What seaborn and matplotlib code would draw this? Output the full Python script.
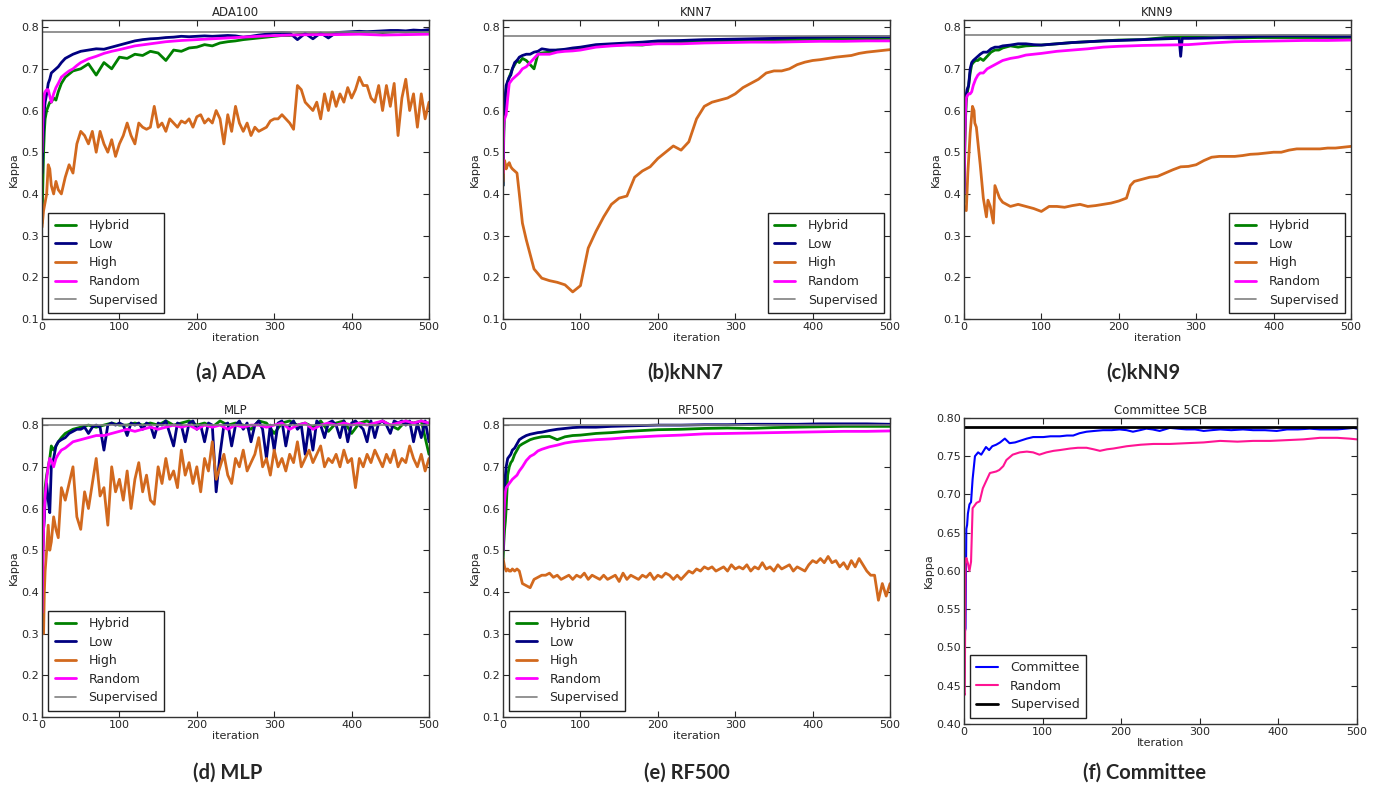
import matplotlib
matplotlib.use('Agg')

import matplotlib.pyplot as plt
import seaborn as sns

sns.set_style("white")
plt.rcParams.update({
    'font.family': ['DejaVu Sans'],
    'xtick.direction': 'in', 'ytick.direction': 'in',
    'xtick.top': True, 'ytick.right': True,
    'xtick.major.size': 4, 'ytick.major.size': 4,
    'xtick.bottom': True, 'ytick.left': True,
    'axes.edgecolor': '#333333', 'axes.linewidth': 1.0,
})

# ---------- iteration grids ----------
EARLY = [0, 1, 2, 3, 4, 6, 8, 10, 12, 15, 18, 21, 25]
X_FINE = EARLY + list(range(30, 501, 5))
X_MID = EARLY + list(range(30, 501, 10))
X_SMOOTH = [0, 1, 2, 3, 4, 6, 8, 10, 12, 15, 18, 21, 25, 30, 35, 40, 45, 50, 60, 70,
            80, 90, 100, 120, 140, 160, 180, 200, 230, 260, 290, 320, 350, 380, 410,
            440, 470, 500]

# ---------- (a) ADA100 ----------
ada_low = [0.45, 0.52, 0.56, 0.60, 0.62, 0.64, 0.665, 0.675, 0.69, 0.695, 0.70, 0.705, 0.715,
           0.725, 0.735, 0.742, 0.745, 0.748, 0.747, 0.752, 0.757, 0.762, 0.767,
           0.77, 0.772, 0.773, 0.775, 0.776, 0.778, 0.777, 0.778, 0.779, 0.778,
           0.779, 0.78, 0.779, 0.776, 0.778, 0.781, 0.783, 0.786, 0.787, 0.786,
           0.77, 0.785, 0.772, 0.786, 0.774, 0.787, 0.788, 0.789, 0.79, 0.789,
           0.79, 0.791, 0.792, 0.792, 0.791, 0.793, 0.792, 0.794]
ada_hybrid = [0.33, 0.42, 0.50, 0.55, 0.58, 0.60, 0.61, 0.62, 0.62, 0.63, 0.625, 0.645, 0.665,
              0.68, 0.695, 0.70, 0.712, 0.685, 0.715, 0.70, 0.728, 0.725, 0.735,
              0.732, 0.742, 0.738, 0.72, 0.745, 0.742, 0.75, 0.752, 0.758, 0.755,
              0.762, 0.765, 0.767, 0.77, 0.772, 0.774, 0.776, 0.778, 0.78, 0.78,
              0.782, 0.783, 0.784, 0.784, 0.785, 0.786, 0.786, 0.787, 0.787, 0.788,
              0.788, 0.787, 0.788, 0.789, 0.788, 0.789, 0.79, 0.79]
ada_random = [0.50, 0.57, 0.62, 0.64, 0.645, 0.65, 0.65, 0.635, 0.62, 0.64, 0.655, 0.665, 0.68,
              0.688, 0.695, 0.70, 0.708, 0.715, 0.724, 0.73, 0.737, 0.742, 0.746, 0.755,
              0.76, 0.765, 0.768, 0.77, 0.773, 0.776, 0.779, 0.781, 0.782, 0.782, 0.783,
              0.781, 0.782, 0.783]
ada_high = [0.32, 0.34, 0.36, 0.37, 0.38, 0.40, 0.47, 0.46, 0.42, 0.40, 0.43, 0.41, 0.40,
            0.44, 0.47, 0.45, 0.52, 0.55, 0.54, 0.52, 0.55, 0.50, 0.55,
            0.52, 0.50, 0.53, 0.49, 0.52, 0.54, 0.57, 0.54, 0.52, 0.57,
            0.56, 0.555, 0.56, 0.61, 0.56, 0.57, 0.55, 0.58, 0.57, 0.56,
            0.575, 0.57, 0.58, 0.56, 0.585, 0.59, 0.57, 0.58, 0.57, 0.60,
            0.58, 0.52, 0.59, 0.55, 0.61, 0.57, 0.55, 0.57, 0.54, 0.56,
            0.55, 0.555, 0.56, 0.575, 0.58, 0.58, 0.59, 0.58, 0.57, 0.555,
            0.66, 0.65, 0.62, 0.61, 0.60, 0.62, 0.58, 0.64, 0.60, 0.645,
            0.61, 0.64, 0.62, 0.655, 0.63, 0.65, 0.68, 0.66, 0.66, 0.63,
            0.62, 0.66, 0.60, 0.66, 0.61, 0.665, 0.54, 0.63, 0.675, 0.60,
            0.64, 0.56, 0.64, 0.58, 0.62]

# ---------- (b) KNN7 ----------
knn7_low = [0.42, 0.58, 0.60, 0.64, 0.66, 0.67, 0.68, 0.685, 0.70, 0.715, 0.72, 0.728, 0.732,
            0.735, 0.735, 0.74, 0.742, 0.748, 0.745, 0.745, 0.747, 0.75, 0.752, 0.758,
            0.76, 0.762, 0.764, 0.767, 0.768, 0.77, 0.771, 0.772, 0.773, 0.775, 0.776,
            0.777, 0.777, 0.777]
knn7_hybrid = [0.42, 0.55, 0.60, 0.63, 0.65, 0.67, 0.68, 0.69, 0.70, 0.71, 0.72, 0.715, 0.725,
               0.72, 0.71, 0.70, 0.735, 0.738, 0.74, 0.745, 0.745, 0.748, 0.75, 0.755,
               0.757, 0.758, 0.757, 0.762, 0.765, 0.766, 0.767, 0.768, 0.769, 0.77, 0.771,
               0.772, 0.772, 0.773]
knn7_random = [0.45, 0.57, 0.58, 0.585, 0.59, 0.63, 0.665, 0.67, 0.675, 0.68, 0.685, 0.69, 0.70,
               0.705, 0.715, 0.725, 0.735, 0.735, 0.735, 0.74, 0.742, 0.743, 0.745, 0.752,
               0.755, 0.757, 0.758, 0.76, 0.76, 0.762, 0.763, 0.764, 0.764, 0.765, 0.766,
               0.766, 0.767, 0.767]
knn7_high = [0.43, 0.47, 0.48, 0.47, 0.46, 0.47, 0.475, 0.465, 0.46, 0.455, 0.45, 0.40, 0.33,
             0.29, 0.22, 0.198, 0.192, 0.188, 0.182, 0.165, 0.18, 0.27, 0.31,
             0.345, 0.375, 0.39, 0.395, 0.44, 0.455, 0.465, 0.485, 0.50, 0.515,
             0.505, 0.525, 0.58, 0.61, 0.62, 0.625, 0.63, 0.64, 0.655, 0.665,
             0.675, 0.69, 0.695, 0.695, 0.70, 0.71, 0.716, 0.72, 0.722, 0.725,
             0.728, 0.73, 0.732, 0.737, 0.74, 0.742, 0.744, 0.746]

# ---------- (c) KNN9 ----------
knn9_low_x = [0, 1, 2, 3, 4, 6, 8, 10, 12, 15, 18, 21, 25, 30, 35, 40, 45, 50, 60, 70, 80, 90,
              100, 120, 140, 160, 180, 200, 230, 260, 278, 280, 282, 290, 320, 350, 380, 410,
              440, 470, 500]
knn9_low = [0.40, 0.55, 0.62, 0.64, 0.65, 0.66, 0.70, 0.715, 0.72, 0.725, 0.73, 0.735, 0.74,
            0.74, 0.748, 0.752, 0.752, 0.755, 0.757, 0.76, 0.76, 0.758, 0.757, 0.76, 0.763,
            0.765, 0.767, 0.768, 0.77, 0.772, 0.773, 0.73, 0.773, 0.773, 0.774, 0.776,
            0.778, 0.779, 0.779, 0.778, 0.778]
knn9_hybrid = [0.38, 0.50, 0.58, 0.62, 0.64, 0.66, 0.69, 0.71, 0.715, 0.72, 0.72, 0.725, 0.72,
               0.73, 0.74, 0.745, 0.745, 0.75, 0.755, 0.752, 0.755, 0.756, 0.757, 0.76,
               0.763, 0.765, 0.767, 0.769, 0.77, 0.775, 0.776, 0.775, 0.774, 0.775, 0.775,
               0.775, 0.775, 0.775]
knn9_random = [0.40, 0.52, 0.60, 0.63, 0.635, 0.64, 0.64, 0.645, 0.66, 0.675, 0.685, 0.69, 0.69,
               0.70, 0.705, 0.71, 0.715, 0.72, 0.725, 0.728, 0.733, 0.735, 0.737, 0.742,
               0.745, 0.748, 0.752, 0.754, 0.756, 0.757, 0.758, 0.762, 0.765, 0.766, 0.767,
               0.768, 0.768, 0.769]
knn9_high_x = [0, 1, 3, 5, 8, 11, 13, 14, 16, 21, 25, 29, 31, 34, 38, 40, 46, 50, 60, 70,
               80, 90, 100, 110, 120, 130, 140, 150, 160, 170, 180, 190, 200, 210, 215, 220,
               230, 240, 250, 260, 270, 280, 290, 300, 310, 320, 330, 340, 350, 360, 370,
               380, 390, 400, 410, 420, 430, 440, 450, 460, 470, 480, 490, 500]
knn9_high = [0.37, 0.362, 0.36, 0.45, 0.546, 0.61, 0.60, 0.57, 0.56, 0.47, 0.39, 0.345, 0.385,
             0.37, 0.33, 0.42, 0.39, 0.38, 0.37, 0.375, 0.37, 0.365, 0.358, 0.37, 0.37, 0.368,
             0.372, 0.375, 0.37, 0.372, 0.375, 0.378, 0.383, 0.39, 0.42, 0.43, 0.435, 0.44,
             0.442, 0.45, 0.458, 0.465, 0.466, 0.47, 0.48, 0.488, 0.49, 0.49, 0.49, 0.492,
             0.495, 0.496, 0.498, 0.50, 0.50, 0.505, 0.508, 0.508, 0.508, 0.508, 0.51, 0.51,
             0.512, 0.514]

# ---------- (d) MLP ----------
mlp_hybrid = [0.35, 0.50, 0.55, 0.60, 0.65, 0.68, 0.70, 0.72, 0.75, 0.74, 0.75, 0.76, 0.77,
              0.78, 0.79, 0.795, 0.80, 0.795, 0.80, 0.805, 0.80, 0.80, 0.805,
              0.80, 0.805, 0.80, 0.81, 0.80, 0.805, 0.81, 0.80, 0.805, 0.795,
              0.81, 0.80, 0.805, 0.80, 0.79, 0.81, 0.805, 0.78, 0.805, 0.81,
              0.80, 0.805, 0.795, 0.81, 0.785, 0.805, 0.81, 0.78, 0.805, 0.81,
              0.80, 0.81, 0.80, 0.79, 0.81, 0.805, 0.81, 0.73]
mlp_random = [0.35, 0.45, 0.55, 0.60, 0.63, 0.67, 0.70, 0.72, 0.715, 0.70, 0.72, 0.73, 0.74,
              0.745, 0.76, 0.765, 0.77, 0.775, 0.775, 0.78, 0.785, 0.79, 0.785,
              0.79, 0.795, 0.79, 0.795, 0.80, 0.795, 0.80, 0.79, 0.80, 0.795,
              0.80, 0.79, 0.80, 0.795, 0.80, 0.80, 0.795, 0.80, 0.805, 0.79,
              0.80, 0.805, 0.79, 0.80, 0.805, 0.80, 0.805, 0.80, 0.805, 0.80,
              0.805, 0.81, 0.80, 0.805, 0.81, 0.805, 0.81, 0.805]
mlp_low = [0.40, 0.50, 0.55, 0.58, 0.62, 0.66, 0.62, 0.59, 0.70, 0.72, 0.75, 0.76, 0.765,
           0.77, 0.78, 0.785, 0.79, 0.79, 0.795, 0.78, 0.795, 0.80, 0.795,
           0.74, 0.80, 0.805, 0.80, 0.805, 0.80, 0.775, 0.805, 0.80, 0.805,
           0.79, 0.805, 0.80, 0.77, 0.805, 0.80, 0.81, 0.78, 0.75, 0.805,
           0.80, 0.76, 0.805, 0.81, 0.79, 0.80, 0.76, 0.805, 0.80, 0.64,
           0.73, 0.80, 0.805, 0.75, 0.80, 0.81, 0.79, 0.805, 0.76, 0.80,
           0.81, 0.79, 0.72, 0.80, 0.74, 0.805, 0.81, 0.75, 0.80, 0.81,
           0.79, 0.80, 0.73, 0.80, 0.74, 0.81, 0.80, 0.77, 0.805, 0.81,
           0.80, 0.77, 0.81, 0.76, 0.805, 0.81, 0.80, 0.79, 0.76, 0.81,
           0.77, 0.805, 0.81, 0.80, 0.78, 0.81, 0.805, 0.81, 0.80, 0.81,
           0.76, 0.805, 0.77, 0.81, 0.76]
mlp_high = [0.35, 0.31, 0.30, 0.40, 0.45, 0.50, 0.56, 0.50, 0.52, 0.58, 0.55, 0.53, 0.65,
            0.62, 0.66, 0.70, 0.58, 0.55, 0.64, 0.60, 0.66, 0.72, 0.63,
            0.65, 0.56, 0.70, 0.64, 0.67, 0.62, 0.69, 0.60, 0.67, 0.71,
            0.64, 0.68, 0.62, 0.61, 0.70, 0.66, 0.72, 0.67, 0.69, 0.65,
            0.74, 0.68, 0.71, 0.66, 0.70, 0.64, 0.72, 0.69, 0.76, 0.67,
            0.70, 0.73, 0.68, 0.66, 0.72, 0.70, 0.74, 0.69, 0.71, 0.73,
            0.77, 0.70, 0.72, 0.68, 0.74, 0.70, 0.72, 0.69, 0.73, 0.71,
            0.76, 0.70, 0.72, 0.74, 0.71, 0.73, 0.75, 0.70, 0.72, 0.71,
            0.73, 0.70, 0.74, 0.71, 0.72, 0.65, 0.72, 0.70, 0.73, 0.71,
            0.74, 0.72, 0.70, 0.73, 0.71, 0.74, 0.70, 0.72, 0.71, 0.75,
            0.72, 0.70, 0.73, 0.69, 0.72]

# ---------- (e) RF500 ----------
rf_low = [0.50, 0.60, 0.65, 0.68, 0.70, 0.72, 0.725, 0.73, 0.74, 0.745, 0.755, 0.765, 0.77,
          0.775, 0.778, 0.78, 0.782, 0.783, 0.787, 0.79, 0.792, 0.794, 0.795, 0.795, 0.797,
          0.798, 0.799, 0.80, 0.80, 0.801, 0.801, 0.802, 0.802, 0.802, 0.803, 0.803, 0.803,
          0.802]
rf_hybrid = [0.48, 0.52, 0.55, 0.57, 0.60, 0.68, 0.70, 0.71, 0.715, 0.73, 0.74, 0.75, 0.755,
             0.76, 0.765, 0.768, 0.77, 0.772, 0.773, 0.765, 0.772, 0.775, 0.776, 0.78, 0.782,
             0.785, 0.787, 0.789, 0.79, 0.792, 0.793, 0.792, 0.794, 0.795, 0.796, 0.797,
             0.797, 0.797]
rf_random = [0.50, 0.58, 0.62, 0.64, 0.65, 0.655, 0.66, 0.665, 0.67, 0.675, 0.68, 0.69, 0.70,
             0.715, 0.725, 0.73, 0.738, 0.742, 0.748, 0.752, 0.757, 0.76, 0.762, 0.765, 0.767,
             0.77, 0.772, 0.774, 0.776, 0.779, 0.78, 0.781, 0.782, 0.783, 0.784, 0.785,
             0.785, 0.786]
rf_high = [0.48, 0.47, 0.46, 0.455, 0.45, 0.455, 0.45, 0.45, 0.455, 0.45, 0.455, 0.45, 0.42,
           0.415, 0.41, 0.43, 0.435, 0.44, 0.44, 0.445, 0.435, 0.44, 0.43,
           0.435, 0.44, 0.43, 0.44, 0.435, 0.445, 0.43, 0.44, 0.435, 0.43,
           0.44, 0.43, 0.435, 0.44, 0.425, 0.445, 0.43, 0.44, 0.435, 0.43,
           0.44, 0.435, 0.445, 0.43, 0.44, 0.435, 0.445, 0.44, 0.43, 0.44,
           0.43, 0.44, 0.45, 0.445, 0.455, 0.45, 0.46, 0.455, 0.46, 0.45,
           0.455, 0.46, 0.45, 0.465, 0.455, 0.46, 0.455, 0.465, 0.45, 0.46,
           0.455, 0.47, 0.455, 0.46, 0.45, 0.465, 0.455, 0.46, 0.465, 0.45,
           0.46, 0.455, 0.45, 0.465, 0.475, 0.47, 0.48, 0.47, 0.485, 0.47,
           0.475, 0.46, 0.47, 0.455, 0.475, 0.46, 0.48, 0.465, 0.45, 0.44,
           0.44, 0.38, 0.42, 0.39, 0.42]

# ---------- (f) Committee 5CB ----------
com_x = [0, 1, 2, 3, 4, 5, 7, 9, 11, 14, 18, 22, 25, 28, 32, 36, 41, 46, 52, 58, 65, 71, 80,
         88, 101, 110, 122, 131, 139, 147, 156, 166, 177, 188, 198, 207, 215, 224, 232, 240,
         249, 262, 272, 283, 294, 305, 315, 326, 340, 355, 368, 383, 398, 411, 425, 440,
         453, 465, 475, 486, 496, 500]
com_committee = [0.45, 0.52, 0.525, 0.655, 0.66, 0.675, 0.687, 0.69, 0.72, 0.75, 0.755, 0.752,
                 0.757, 0.762, 0.758, 0.763, 0.765, 0.768, 0.773, 0.767, 0.768, 0.77, 0.773,
                 0.775, 0.775, 0.776, 0.776, 0.777, 0.777, 0.78, 0.782, 0.783, 0.784, 0.784,
                 0.785, 0.784, 0.782, 0.784, 0.786, 0.785, 0.783, 0.787, 0.786, 0.785, 0.785,
                 0.783, 0.784, 0.785, 0.784, 0.785, 0.784, 0.784, 0.783, 0.785, 0.785, 0.786,
                 0.785, 0.785, 0.785, 0.786, 0.787, 0.786]
com_rand_x = [0, 1, 2, 3, 5, 7, 9, 11, 16, 20, 24, 28, 33, 41, 45, 50, 54, 62, 71, 80, 88, 96,
              105, 114, 122, 135, 145, 156, 165, 173, 182, 190, 207, 225, 241, 262, 283, 305,
              326, 348, 368, 390, 411, 432, 453, 475, 490, 500]
com_random = [0.44, 0.438, 0.612, 0.617, 0.61, 0.60, 0.612, 0.682, 0.689, 0.691, 0.708, 0.717,
              0.728, 0.73, 0.732, 0.737, 0.745, 0.752, 0.755, 0.756, 0.755, 0.752, 0.755,
              0.757, 0.758, 0.76, 0.761, 0.761, 0.759, 0.757, 0.759, 0.76, 0.763, 0.765,
              0.766, 0.766, 0.767, 0.768, 0.77, 0.769, 0.77, 0.77, 0.771, 0.772, 0.774,
              0.774, 0.773, 0.772]

supervised = {'ADA100': 0.788, 'KNN7': 0.778, 'KNN9': 0.782, 'MLP': 0.80, 'RF500': 0.80}

C_HYB, C_LOW, C_HIGH, C_RAND = '#008000', '#000080', '#D2691E', '#FF00FF'

fig = plt.figure(figsize=(13.87, 7.92), dpi=100)


def style_axes(ax, title, xlabel):
    ax.set_xlim(0, 500)
    ax.set_xticks([0, 100, 200, 300, 400, 500])
    ax.tick_params(labelsize=8, pad=2)
    ax.set_title(title, fontsize=8.5, pad=3)
    ax.set_xlabel(xlabel, fontsize=8, labelpad=1)
    ax.set_ylabel('Kappa', fontsize=8, labelpad=2)


def panel(rect, title, series, sup, legend_loc, caption, cap_x, cap_y):
    ax = fig.add_axes(rect)
    for x, y, c, lab in series:
        sns.lineplot(x=x, y=y, color=c, lw=2, label=lab, ax=ax, estimator=None, sort=False)
    ax.axhline(sup, color='#808080', lw=1.2, label='Supervised')
    ax.set_ylim(0.1, 0.817)
    ax.set_yticks([0.1, 0.2, 0.3, 0.4, 0.5, 0.6, 0.7, 0.8])
    ax.set_yticklabels(['0.1', '0.2', '0.3', '0.4', '0.5', '0.6', '0.7', '0.8'])
    style_axes(ax, title, 'iteration')
    ax.legend(loc=legend_loc, fontsize=9, fancybox=False, edgecolor='#222222', framealpha=1,
              handlelength=1.7, handletextpad=1.0, borderpad=0.5, labelspacing=0.45,
              borderaxespad=0.5)
    fig.text(cap_x, cap_y, caption, fontsize=14.5, fontweight='bold', family='Lato',
             ha='center', va='center')
    return ax


W, H = 0.279, 0.3775
panel([0.0303, 0.5972, W, H], 'ADA100',
      [(X_MID, ada_hybrid, C_HYB, 'Hybrid'), (X_MID, ada_low, C_LOW, 'Low'),
       (X_FINE, ada_high, C_HIGH, 'High'), (X_SMOOTH, ada_random, C_RAND, 'Random')],
      supervised['ADA100'], 'lower left', '(a) ADA', 0.166, 0.529)
panel([0.3627, 0.5972, W, H], 'KNN7',
      [(X_SMOOTH, knn7_hybrid, C_HYB, 'Hybrid'), (X_SMOOTH, knn7_low, C_LOW, 'Low'),
       (X_MID, knn7_high, C_HIGH, 'High'), (X_SMOOTH, knn7_random, C_RAND, 'Random')],
      supervised['KNN7'], 'lower right', '(b)kNN7', 0.494, 0.529)
panel([0.695, 0.5972, W, H], 'KNN9',
      [(X_SMOOTH, knn9_hybrid, C_HYB, 'Hybrid'), (knn9_low_x, knn9_low, C_LOW, 'Low'),
       (knn9_high_x, knn9_high, C_HIGH, 'High'), (X_SMOOTH, knn9_random, C_RAND, 'Random')],
      supervised['KNN9'], 'lower right', '(c)kNN9', 0.824, 0.529)
panel([0.0303, 0.0947, W, H], 'MLP',
      [(X_MID, mlp_hybrid, C_HYB, 'Hybrid'), (X_FINE, mlp_low, C_LOW, 'Low'),
       (X_FINE, mlp_high, C_HIGH, 'High'), (X_MID, mlp_random, C_RAND, 'Random')],
      supervised['MLP'], 'lower left', '(d) MLP', 0.164, 0.024)
panel([0.3627, 0.0947, W, H], 'RF500',
      [(X_SMOOTH, rf_hybrid, C_HYB, 'Hybrid'), (X_SMOOTH, rf_low, C_LOW, 'Low'),
       (X_FINE, rf_high, C_HIGH, 'High'), (X_SMOOTH, rf_random, C_RAND, 'Random')],
      supervised['RF500'], 'lower left', '(e) RF500', 0.495, 0.024)

# (f) committee panel
ax = fig.add_axes([0.695, 0.0859, 0.2833, 0.3864])
sns.lineplot(x=com_x, y=com_committee, color='#0000FF', lw=1.5, label='Committee', ax=ax,
             estimator=None, sort=False)
sns.lineplot(x=com_rand_x, y=com_random, color='#FF1493', lw=1.5, label='Random', ax=ax,
             estimator=None, sort=False)
ax.axhline(0.788, color='black', lw=2, label='Supervised')
ax.set_ylim(0.4, 0.8)
ax.set_yticks([0.40, 0.45, 0.50, 0.55, 0.60, 0.65, 0.70, 0.75, 0.80])
ax.set_yticklabels(['0.40', '0.45', '0.50', '0.55', '0.60', '0.65', '0.70', '0.75', '0.80'])
style_axes(ax, 'Committee 5CB', 'Iteration')
ax.legend(loc='lower left', fontsize=9, fancybox=False, edgecolor='#222222', framealpha=1,
          handlelength=1.7, handletextpad=1.0, borderpad=0.5, labelspacing=0.45,
          borderaxespad=0.5)
fig.text(0.825, 0.024, '(f) Committee', fontsize=14.5, fontweight='bold', family='Lato',
         ha='center', va='center')

fig.savefig('out.png', dpi=100)
